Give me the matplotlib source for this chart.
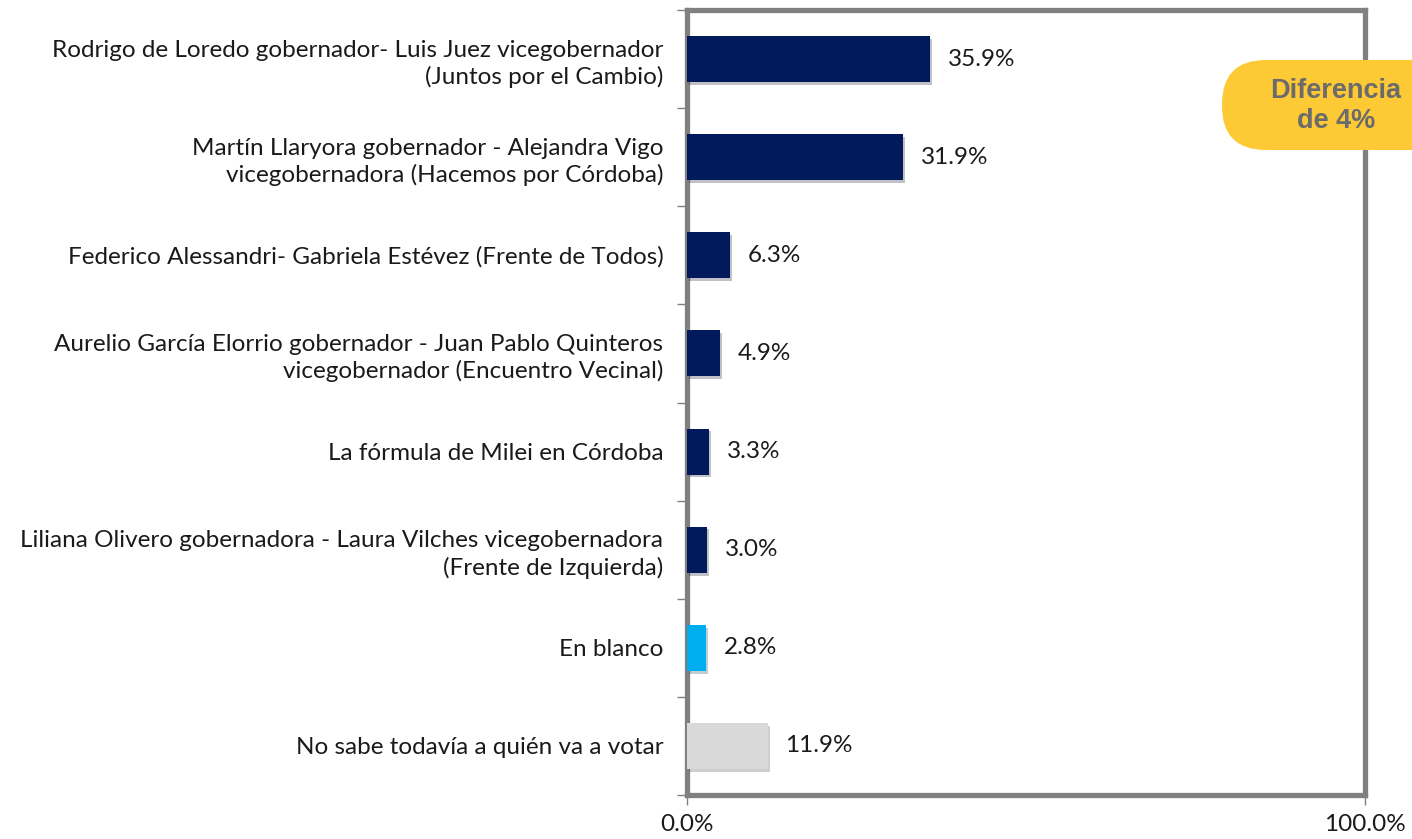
import matplotlib
matplotlib.use("Agg")
import matplotlib.pyplot as plt
import matplotlib.patheffects as pe
from matplotlib.patches import FancyBboxPatch

# Data
labels = [
    "Rodrigo de Loredo gobernador- Luis Juez vicegobernador\n(Juntos por el Cambio)",
    "Martín Llaryora gobernador - Alejandra Vigo\nvicegobernadora (Hacemos por Córdoba)",
    "Federico Alessandri- Gabriela Estévez (Frente de Todos)",
    "Aurelio García Elorrio gobernador - Juan Pablo Quinteros\nvicegobernador (Encuentro Vecinal)",
    "La fórmula de Milei en Córdoba",
    "Liliana Olivero gobernadora - Laura Vilches vicegobernadora\n(Frente de Izquierda)",
    "En blanco",
    "No sabe todavía a quién va a votar",
]
values = [35.9, 31.9, 6.3, 4.9, 3.3, 3.0, 2.8, 11.9]
colors = ["#001a5c"] * 6 + ["#00aeef", "#d9d9d9"]
xticks = [0, 100]
xtick_labels = ["0.0%", "100.0%"]

plt.rcParams['font.family'] = ['Lato', 'DejaVu Sans']

fig = plt.figure(figsize=(14.12, 8.39), dpi=100)
ax = fig.add_axes([687 / 1412, 1 - 795 / 839, 678 / 1412, 785 / 839])

n = len(values)
ypos = list(range(n))
ax.barh(ypos, values, height=0.47, color=colors, zorder=3,
        path_effects=[pe.SimplePatchShadow(offset=(1.5, -2), alpha=0.25), pe.Normal()])
for y, v in zip(ypos, values):
    ax.text(v + 2.6, y, f"{v:.1f}%", va="center", ha="left", fontsize=17.5, color="#1a1a1a")

ax.set_xlim(0, 100)
ax.set_ylim(n - 0.5, -0.5)
ax.set_yticks(ypos)
ax.set_yticklabels(labels, fontsize=17.5, color="#1a1a1a", linespacing=1.3)
ax.tick_params(axis="y", length=0, pad=17)
# minor ticks at category boundaries on the left
ax.set_yticks([i - 0.5 for i in range(n + 1)], minor=True)
ax.tick_params(axis="y", which="minor", length=7, color="#808080", width=1)
ax.set_xticks(xticks)
ax.set_xticklabels(xtick_labels, fontsize=17.5, color="#1a1a1a")
ax.tick_params(axis="x", length=7, color="#808080", width=1, pad=7)

for s in ax.spines.values():
    s.set_color("#808080")
    s.set_linewidth(3.8)

# Badge (coordinates in inches so the rounded end stays circular)
badge = FancyBboxPatch((12.22, (839 - 150) / 100), 2.6, 0.9,
                       boxstyle="round,pad=0,rounding_size=0.44",
                       transform=fig.dpi_scale_trans, facecolor="#fdc935",
                       edgecolor="none", zorder=10, clip_on=False)
fig.patches.append(badge)
fig.text(1336 / 1412, 1 - 106 / 839, "Diferencia\nde 4%", ha="center", va="center",
         fontsize=19.5, fontweight="bold", color="#6b6b6b", family="Liberation Sans",
         linespacing=1.25, zorder=11)

fig.savefig("out.png", dpi=100)
